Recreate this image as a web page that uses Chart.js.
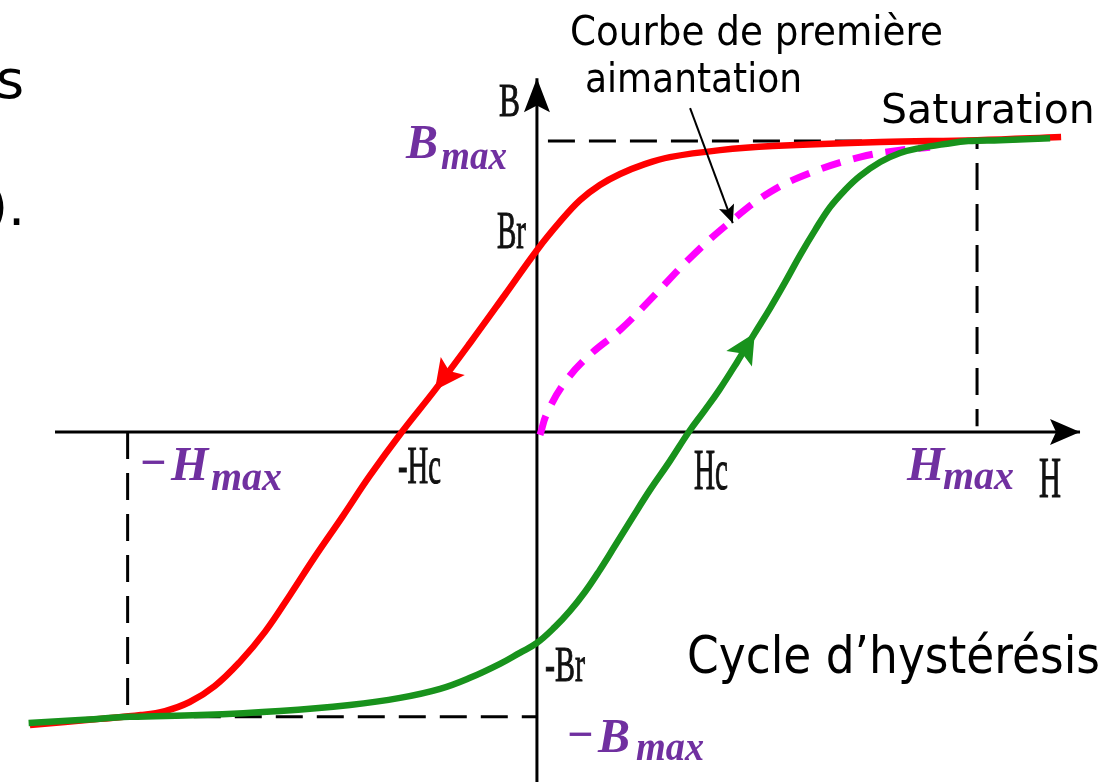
<!DOCTYPE html>
<html lang="fr">
<head>
<meta charset="utf-8">
<title>Cycle d'hystérésis</title>
<script src="https://cdn.jsdelivr.net/npm/chart.js@4.4.1/dist/chart.umd.min.js"></script>
<style>
  html, body { margin: 0; padding: 0; background: #fff; }
  canvas { display: block; }
</style>
</head>
<body>
<canvas id="graphique" width="1117" height="782"></canvas>
<script>
// bornes des axes (unités : Hmax = 10, Bmax = 10)
const hLimites = [-12.2, 13.18];
const bLimites = [-12.03, 14.85];
const hMax = 10, hMin = -9.3;
const bMax = 10, bMin = -9.79;

// branche descendante (rouge), de +Bmax vers -Bmax
const rougeH = [11.91, 10.0, 7.80, 5.36, 4.16, 3.02, 2.45, 1.89, 1.43, 0.98, 0.52, 0, -0.73, -1.52, -2.32, -3.07, -3.80, -4.41, -5.05, -5.61, -6.18, -6.75, -7.32, -7.89, -8.45, -9.00, -9.93, -11.52];
const rougeB = [10.14, 10.03, 9.97, 9.83, 9.69, 9.45, 9.21, 8.87, 8.49, 7.97, 7.22, 6.25, 4.71, 3.06, 1.44, 0, -1.51, -2.89, -4.30, -5.60, -6.87, -7.90, -8.73, -9.28, -9.59, -9.73, -9.86, -10.07];

// branche montante (verte), de -Bmax vers +Bmax
const vertH = [-11.55, -10.39, -9.25, -7.66, -5.84, -4.25, -3.11, -2.20, -1.52, -0.84, -0.39, 0, 0.41, 0.75, 1.09, 1.43, 1.77, 2.18, 2.57, 3.02, 3.45, 3.82, 4.14, 4.55, 4.95, 5.30, 5.64, 5.98, 6.32, 6.66, 7.00, 7.34, 7.80, 8.25, 8.70, 9.27, 9.80, 10.52, 11.66];
const vertB = [-10.0, -9.90, -9.79, -9.73, -9.59, -9.38, -9.14, -8.83, -8.45, -7.97, -7.59, -7.25, -6.70, -6.15, -5.50, -4.74, -3.92, -2.92, -1.99, -1.00, 0, 0.76, 1.44, 2.41, 3.40, 4.26, 5.15, 6.08, 6.94, 7.73, 8.32, 8.80, 9.28, 9.59, 9.76, 9.90, 10.0, 10.03, 10.10];

// courbe de première aimantation (magenta)
const premH = [0.07, 0.23, 0.64, 1.20, 1.89, 2.57, 3.48, 4.39, 5.30, 6.20, 7.34, 8.25, 8.93];
const premB = [-0.10, 0.65, 1.72, 2.65, 3.51, 4.54, 5.98, 7.22, 8.25, 8.90, 9.45, 9.69, 9.79];

// axes et flèche de légende
const axeH = [-10.95, 12.34];
const axeB = [-12.1, 12.16];
const renvoiH = [3.48, 4.45];
const renvoiB = [11.13, 7.18];

function pts(xs, ys) {
    return xs.map(function (x, i) { return { x: x, y: ys[i] }; });
}

const fleches = {
    id: 'fleches',
    afterDatasetsDraw(chart) {
        const ctx = chart.ctx;
        chart.data.datasets.forEach(function (ds, i) {
            if (ds.fleche == null) return;
            const p = chart.getDatasetMeta(i).data;
            const a = p[ds.fleche - 1], b = p[ds.fleche];
            const ang = Math.atan2(b.y - a.y, b.x - a.x);
            ctx.save();
            ctx.translate(b.x, b.y);
            ctx.rotate(ang);
            ctx.beginPath();
            ctx.moveTo(0, 0);
            ctx.lineTo(-ds.flecheL, ds.flecheW);
            ctx.lineTo(-ds.flecheL * 0.8, 0);
            ctx.lineTo(-ds.flecheL, -ds.flecheW);
            ctx.closePath();
            ctx.fillStyle = ds.borderColor;
            ctx.fill();
            ctx.restore();
        });
    }
};

const textes = {
    id: 'textes',
    afterDraw(chart) {
        const ctx = chart.ctx;
        ctx.save();
        ctx.textBaseline = 'alphabetic';
        ctx.textAlign = 'left';

        function t(txt, x, y, font, color, maxW, epais) {
            ctx.font = font;
            ctx.fillStyle = color;
            if (maxW) ctx.fillText(txt, x, y, maxW);
            else ctx.fillText(txt, x, y);
            if (epais) {
                ctx.strokeStyle = color;
                ctx.lineWidth = epais;
                ctx.strokeText(txt, x, y, maxW);
            }
        }

        // texte coupé à gauche
        t('s', -4, 98, '54px "DejaVu Sans"', '#000');
        t(').', -13, 225, '54px "DejaVu Sans"', '#000');

        t('Courbe de première', 570, 45, '41px "DejaVu Sans"', '#000', 373);
        t('aimantation', 585, 92, '41px "DejaVu Sans"', '#000', 217);
        t('Saturation', 881, 123, '41px "DejaVu Sans"', '#000', 214);
        t('Cycle d’hystérésis', 687, 673, '52px "DejaVu Sans"', '#000', 413);

        // graduations (serif étroit)
        const g = '#111';
        t('B', 499, 116, '47px "Liberation Serif"', g, 21, 1);
        t('Br', 497, 248, '52px "Liberation Serif"', g, 29, 1);
        t('-Hc', 398, 483, '52px "Liberation Serif"', g, 43, 1);
        t('Hc', 694, 489, '56px "Liberation Serif"', g, 34, 1);
        t('H', 1039, 497, '57px "Liberation Serif"', g, 22, 1);
        t('-Br', 545, 681, '50px "Liberation Serif"', g, 40, 1);

        // valeurs extrêmes (violet)
        const v = '#7030a0';
        const gros = 'bold italic 48px "Liberation Serif"';
        const petit = 'bold italic 40px "Liberation Serif"';
        t('B', 406, 158, gros, v, 46);
        t('max', 441, 169, petit, v, 66);
        t('−', 139, 478, gros, v, 28);
        t('H', 171, 480, gros, v, 44);
        t('max', 211, 490, petit, v, 71);
        t('H', 907, 480, gros, v, 40);
        t('max', 943, 489, petit, v, 75);
        t('−', 566, 750, gros, v, 28);
        t('B', 598, 752, gros, v, 48);
        t('max', 636, 760, petit, v, 68);
        ctx.restore();
    }
};

const ctx = document.getElementById('graphique');

new Chart(ctx, {
    type: 'scatter',
    data: {
        datasets: [{
            label: 'Branche montante',
            data: pts(vertH, vertB),
            borderColor: '#18921c',
            borderWidth: 6.5,
            tension: 0.4,
            order: 1,
            fleche: 24, flecheL: 30, flecheW: 15
        }, {
            label: 'Branche descendante',
            data: pts(rougeH, rougeB),
            borderColor: '#ff0000',
            borderWidth: 6.5,
            tension: 0.4,
            order: 2,
            fleche: 14, flecheL: 30, flecheW: 15
        }, {
            label: 'Première aimantation',
            data: pts(premH, premB),
            borderColor: '#ff00ff',
            borderWidth: 7,
            borderDash: [20, 13],
            tension: 0.4,
            order: 3
        }, {
            label: 'Bmax',
            data: [{ x: 0.25, y: bMax }, { x: hMax, y: bMax }, { x: hMax, y: 0.2 }],
            borderColor: '#000',
            borderWidth: 3,
            borderDash: [27, 14],
            order: 4
        }, {
            label: '-Bmax',
            data: [{ x: -9.66, y: bMin }, { x: 0, y: bMin }],
            borderColor: '#000',
            borderWidth: 3,
            borderDash: [27, 14],
            order: 4
        }, {
            label: '-Hmax',
            data: [{ x: hMin, y: 0 }, { x: hMin, y: bMin }],
            borderColor: '#000',
            borderWidth: 3,
            borderDash: [27, 14],
            order: 4
        }, {
            label: 'Axe H',
            data: pts(axeH, [0, 0]),
            borderColor: '#000',
            borderWidth: 3,
            order: 5,
            fleche: 1, flecheL: 30, flecheW: 13
        }, {
            label: 'Axe B',
            data: pts([0, 0], axeB),
            borderColor: '#000',
            borderWidth: 3,
            order: 5,
            fleche: 1, flecheL: 34, flecheW: 13
        }, {
            label: 'Renvoi',
            data: pts(renvoiH, renvoiB),
            borderColor: '#000',
            borderWidth: 2,
            order: 0,
            fleche: 1, flecheL: 18, flecheW: 8
        }]
    },
    options: {
        responsive: false,
        animation: false,
        events: [],
        showLine: true,
        layout: { padding: 0 },
        elements: { point: { radius: 0 } },
        scales: {
            x: { type: 'linear', min: hLimites[0], max: hLimites[1], display: false },
            y: { type: 'linear', min: bLimites[0], max: bLimites[1], display: false }
        },
        plugins: {
            legend: { display: false },
            tooltip: { enabled: false }
        }
    },
    plugins: [fleches, textes]
});
</script>
</body>
</html>
